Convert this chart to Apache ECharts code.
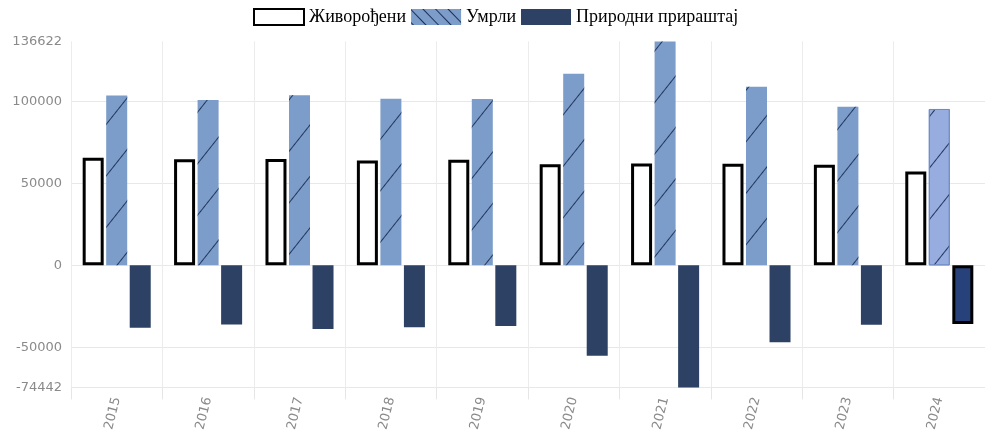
<!DOCTYPE html>
<html>
<head>
<meta charset="utf-8">
<script src="https://cdn.jsdelivr.net/npm/echarts@6/dist/echarts.min.js"></script>
<style>
html,body{margin:0;padding:0;background:#fff;}
#chart{width:985px;height:435px;}
</style>
</head>
<body>
<div id="chart"></div>
<script>
var years = ['2015','2016','2017','2018','2019','2020','2021','2022','2023','2024'];
var births = [65657, 64734, 64894, 63975, 64399, 61692, 62180, 62012, 61400, 57300];
var deaths = [103678, 100834, 103722, 101655, 101458, 116850, 136622, 108980, 96800, 95400];
var natural = [-38021, -36100, -38828, -37680, -37059, -55158, -74442, -46968, -36300, -35700];
var yLabels = [-74442, -50000, 0, 50000, 100000, 136622];
var yLines = [-74442, -50000, 0, 50000, 100000];
var seriesNames = ['Живорођени', 'Умрли', 'Природни прираштај'];

var hatch = {
  symbol: 'rect', symbolSize: 1, color: '#22355c',
  dashArrayX: [1, 0], dashArrayY: [1, 31], rotation: -0.9
};
var legendHatch = {
  symbol: 'rect', symbolSize: 1, color: '#1d2f55',
  dashArrayX: [1, 0], dashArrayY: [1, 8], rotation: 0.8
};

var deathsData = deaths.map(function (v, i) {
  if (i === deaths.length - 1) {
    return { value: v, itemStyle: { color: '#97acdf', borderColor: '#6f8bc9', borderWidth: 1 } };
  }
  return v;
});
var naturalData = natural.map(function (v, i) {
  if (i === natural.length - 1) {
    return { value: v, itemStyle: { color: '#27427a', borderColor: '#000', borderWidth: 3 } };
  }
  return v;
});

var chart = echarts.init(document.getElementById('chart'));
chart.setOption({
  animation: false,
  backgroundColor: '#fff',
  legend: {
    left: 248, top: 3,
    icon: 'rect',
    itemWidth: 50, itemHeight: 16, itemGap: 5,
    textStyle: { fontFamily: 'Liberation Serif', fontSize: 18, color: '#000' },
    data: [
      { name: seriesNames[0] },
      { name: seriesNames[1], itemStyle: { decal: legendHatch } },
      { name: seriesNames[2] }
    ]
  },
  grid: { left: 71, top: 41.4, width: 920, height: 346 },
  xAxis: {
    type: 'category',
    data: years,
    position: 'bottom',
    axisLine: { show: false, onZero: false },
    axisTick: { show: true, length: 12, lineStyle: { color: '#e6e6e6' } },
    splitLine: { show: true, lineStyle: { color: '#ececec' } },
    axisLabel: { rotate: 76, margin: 10, color: '#8a8a8a', fontSize: 13, fontFamily: 'DejaVu Sans' }
  },
  yAxis: {
    type: 'value',
    min: -74442, max: 136622,
    axisLine: { show: false },
    axisTick: { show: false, customValues: yLines },
    splitLine: { show: true, lineStyle: { color: '#e8e8e8' } },
    axisLabel: {
      customValues: yLabels, color: '#8a8a8a', fontSize: 13, fontFamily: 'DejaVu Sans', margin: 9,
      formatter: function (v) { return String(v); }
    }
  },
  series: [
    {
      name: seriesNames[0], type: 'bar', data: births,
      barWidth: 21, barGap: '12%',
      itemStyle: { color: '#fff', borderColor: '#000', borderWidth: 3 }
    },
    {
      name: seriesNames[1], type: 'bar', data: deathsData,
      barWidth: 21, barGap: '12%',
      itemStyle: { color: '#7c9dc9', decal: hatch }
    },
    {
      name: seriesNames[2], type: 'bar', data: naturalData,
      barWidth: 21, barGap: '12%',
      itemStyle: { color: '#2c4163' }
    }
  ]
});
</script>
</body>
</html>
